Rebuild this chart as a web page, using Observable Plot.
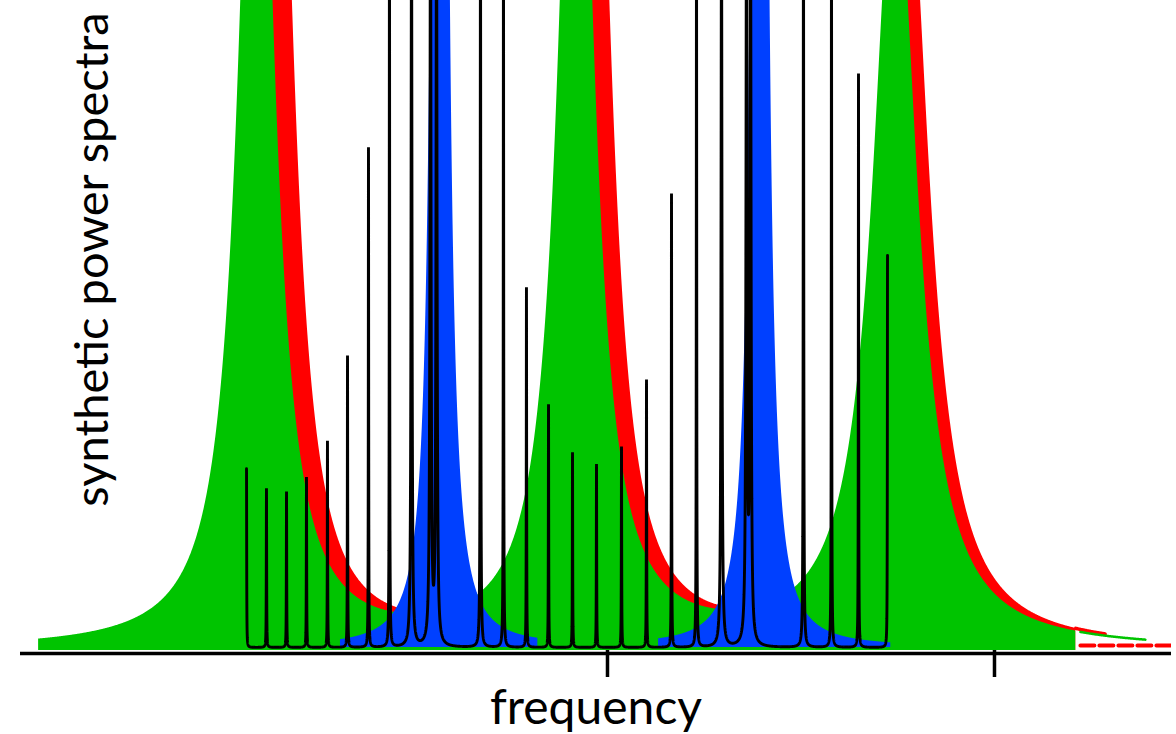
<!DOCTYPE html>
<html>
<head>
<meta charset="utf-8">
<script src="https://cdn.jsdelivr.net/npm/d3@7"></script>
<script src="https://cdn.jsdelivr.net/npm/@observablehq/plot@0.6"></script>
<style>
  body { margin: 0; background: #fff; }
  #chart svg { display: block; }
</style>
</head>
<body>
<div id="chart"></div>
<script>
// ---------- data (frequency and power in arbitrary units) ----------
// broad modes (green) and the same modes shifted (red)
const greenCenters = [1547, 1960, 2372];
const redCenters   = [1572, 1982, 2388];
const broadHeights = [160, 160, 122];
const broadWidths  = [26.6, 26.6, 34.5];
const greenRange = [1265, 2605];
const redRange   = [1326, 2605];
const redTailRange   = [2605, 2643];
const greenTailRange = [2611, 2695];
const redFloorRange  = [2611, 2729];
const redFloorLevel  = 0.77;

// narrow modes (blue)
const blueCenters = [1784, 2197];
const blueHeights = [900, 900];
const blueWidths  = [4.6, 4.6];
const blueRanges  = [[1655, 1910], [2066, 2366]];

// comb of very narrow modes (black)
const combCenters = [1533.6, 1559.4, 1585.3, 1611.1, 1638.2, 1664.1, 1691.2, 1718.3, 1746.8, 1771.3, 1779.1,
                     1835.9, 1865.6, 1895.3, 1923.8, 1954.8, 1985.8, 2018.1, 2050.4, 2082.7, 2115.0, 2147.3,
                     2179.6, 2184.8, 2253.2, 2289.4, 2324.3, 2361.8];
const combHeights = [27.5, 24.5, 24.0, 26.2, 31.8, 44.9, 76.9, 115, 115, 120, 115,
                     115, 112, 55.4, 37.4, 30.0, 28.2, 30.9, 41.2, 69.8, 112, 115,
                     120, 115, 115, 110, 88.3, 60.3];
const combWidths  = [0.25, 0.25, 0.25, 0.25, 0.25, 0.25, 0.25, 0.3, 0.7, 0.8, 0.8,
                     0.4, 0.3, 0.25, 0.25, 0.25, 0.25, 0.25, 0.25, 0.25, 0.3, 0.7,
                     0.8, 0.8, 0.4, 0.3, 0.25, 0.25];
const combRange = [1533.6, 2361.8];

const raisedBase = 0.46;   // blue and black profiles sit slightly above zero
const axisLevel = -0.46;
const xTicks = [2000, 2500];
const xLabel = "frequency";
const yLabel = "synthetic power spectra";

// ---------- helpers ----------
const lor = (x, c, h, g) => h * g * g / ((x - c) * (x - c) + g * g);
const profile = (x, cs, hs, gs) => cs.reduce((s, c, i) => s + lor(x, c, hs[i], gs[i]), 0);
function grid(a, b, step, extra = []) {
  const xs = d3.range(a, b, step);
  xs.push(b);
  for (const e of extra) if (e >= a && e <= b) xs.push(e);
  return Array.from(new Set(xs)).sort((p, q) => p - q);
}

const greenData = grid(greenRange[0], greenRange[1], 0.5)
  .map(x => ({x, y: profile(x, greenCenters, broadHeights, broadWidths)}));
const redData = grid(redRange[0], redRange[1], 0.5)
  .map(x => ({x, y: profile(x, redCenters, broadHeights, broadWidths)}));
const redTail = grid(redTailRange[0], redTailRange[1], 1)
  .map(x => ({x, y: profile(x, redCenters, broadHeights, broadWidths)}));
const greenTail = grid(greenTailRange[0], greenTailRange[1], 1)
  .map(x => ({x, y: profile(x, greenCenters, broadHeights, broadWidths)}));
const redFloor = [{x: redFloorRange[0], y: redFloorLevel}, {x: redFloorRange[1], y: redFloorLevel}];

const blueData = blueRanges.flatMap((r, k) =>
  grid(r[0], r[1], 0.25, blueCenters).map(x => ({
    seg: k, x, y: raisedBase + profile(x, blueCenters, blueHeights, blueWidths)
  })));

const combData = grid(combRange[0], combRange[1], 0.04, combCenters)
  .map(x => ({x, y: raisedBase + profile(x, combCenters, combHeights, combWidths)}));

const GREEN = "#00c400", RED = "#ff0000", BLUE = "#0040ff";
const FONT = "Lato, 'Open Sans', sans-serif";

const chart = Plot.plot({
  width: 1176,
  height: 734,
  marginTop: 0,
  marginBottom: 84,
  marginLeft: 20,
  marginRight: 5,
  style: {background: "#fff", fontFamily: FONT},
  x: {domain: [1241.6, 2728.7], label: null},
  y: {domain: [0, 100], axis: null, label: null},
  marks: [
    Plot.areaY(redData, {x: "x", y: "y", fill: RED, clip: true}),
    Plot.lineY(redTail, {x: "x", y: "y", stroke: RED, strokeWidth: 3.5, clip: true}),
    Plot.lineY(redFloor, {x: "x", y: "y", stroke: RED, strokeWidth: 4, strokeDasharray: "14,5", clip: true}),
    Plot.areaY(greenData, {x: "x", y: "y", fill: GREEN, clip: true}),
    Plot.lineY(greenTail, {x: "x", y: "y", stroke: GREEN, strokeWidth: 2.5, clip: true}),
    Plot.areaY(blueData, {x: "x", y1: raisedBase, y2: "y", z: "seg", fill: BLUE, clip: true}),
    Plot.lineY(combData, {x: "x", y: "y", stroke: "#000", strokeWidth: 2.9, strokeLinejoin: "bevel", clip: true}),
    Plot.ruleY([axisLevel], {stroke: "#000", strokeWidth: 3.5}),
    Plot.axisX({ticks: xTicks, tickSize: 27, tickFormat: () => "", label: null, strokeWidth: 3.5}),
    Plot.text([xLabel], {text: d => d, frameAnchor: "bottom", dy: 73, fontSize: 48, fontFamily: FONT}),
    Plot.text([yLabel], {text: d => d, frameAnchor: "left", textAnchor: "middle", rotate: -90, dx: 72, dy: -66, fontSize: 47, fontFamily: FONT})
  ]
});
document.getElementById("chart").appendChild(chart);
</script>
</body>
</html>
